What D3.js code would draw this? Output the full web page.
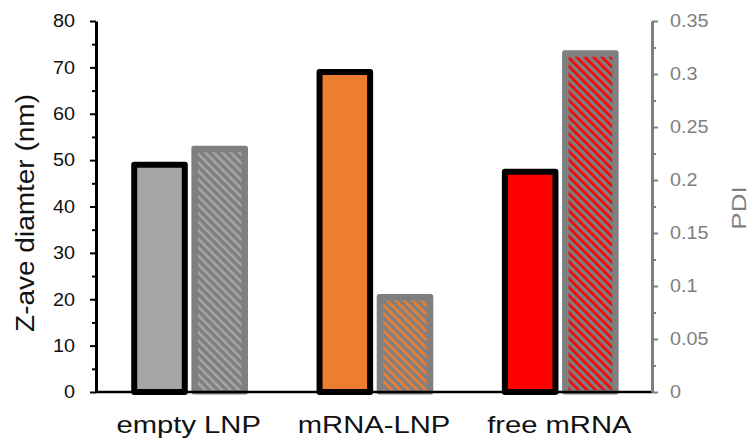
<!DOCTYPE html>
<html>
<head>
<meta charset="utf-8">
<script src="https://cdn.jsdelivr.net/npm/d3@7"></script>
<style>
  html, body { margin: 0; padding: 0; background: #fff; }
  svg { display: block; font-family: "Liberation Sans", Arial, sans-serif; }
</style>
</head>
<body>
<svg id="chart" width="754" height="441"></svg>
<script>
// Particle characterisation: Z-average diameter (left axis) and PDI (right axis)
const categories = ["empty LNP", "mRNA-LNP", "free mRNA"];
const zAverage = [49, 69, 47.5];          // nm
const pdi = [0.23, 0.09, 0.32];
const barColors = ["#a6a6a6", "#ed7d31", "#ff0000"];
const zTicks = [0, 10, 20, 30, 40, 50, 60, 70, 80];
const pdiTicks = [0, 0.05, 0.1, 0.15, 0.2, 0.25, 0.3, 0.35];

const svg = d3.select("#chart");
const plotLeft = 96, plotRight = 652, plotTop = 21, plotBottom = 392;
const grey = "#7f7f7f";

const x = d3.scaleBand().domain(categories).range([plotLeft, plotRight]).padding(0);
const bw = x.bandwidth();
const inner = d3.scaleBand().domain(["z", "pdi"])
  .range([bw * 0.19, bw * 0.82]).paddingInner(0.06).paddingOuter(0);

const yL = d3.scaleLinear().domain([0, 80]).range([plotBottom, plotTop]);
const yR = d3.scaleLinear().domain([0, 0.35]).range([plotBottom, plotTop]);

// hatch patterns: category colour stripes on grey
const defs = svg.append("defs");
categories.forEach((c, i) => {
  const p = defs.append("pattern")
    .attr("id", "hatch" + i)
    .attr("patternUnits", "userSpaceOnUse")
    .attr("width", 6).attr("height", 6)
    .attr("patternTransform", "rotate(-45)");
  p.append("rect").attr("width", 6).attr("height", 6).attr("fill", grey);
  p.append("rect").attr("x", 0).attr("width", 2.6).attr("height", 6).attr("fill", barColors[i]);
});

// Z-average bars (black outline)
const zSw = 6;
svg.append("g").selectAll("rect")
  .data(categories)
  .join("rect")
  .attr("x", (d) => x(d) + inner("z") + zSw / 2)
  .attr("width", inner.bandwidth() - zSw)
  .attr("y", (d, i) => yL(zAverage[i]))
  .attr("height", (d, i) => yL(0) - yL(zAverage[i]))
  .attr("fill", (d, i) => barColors[i])
  .attr("stroke", "#000")
  .attr("stroke-width", zSw)
  .attr("stroke-linejoin", "round");

// PDI bars (grey outline, hatched fill)
const pSw = 5, inset = 4;
const pdiG = svg.append("g");
pdiG.selectAll("rect.outer")
  .data(categories)
  .join("rect")
  .attr("class", "outer")
  .attr("x", (d) => x(d) + inner("pdi") + pSw / 2)
  .attr("width", inner.bandwidth() - pSw)
  .attr("y", (d, i) => yR(pdi[i]))
  .attr("height", (d, i) => yR(0) - yR(pdi[i]))
  .attr("fill", grey)
  .attr("stroke", grey)
  .attr("stroke-width", pSw)
  .attr("stroke-linejoin", "round");
pdiG.selectAll("rect.inner")
  .data(categories)
  .join("rect")
  .attr("class", "inner")
  .attr("x", (d) => x(d) + inner("pdi") + pSw / 2 + inset)
  .attr("width", inner.bandwidth() - pSw - 2 * inset)
  .attr("y", (d, i) => yR(pdi[i]) + inset)
  .attr("height", (d, i) => yR(0) - yR(pdi[i]) - inset - 2)
  .attr("fill", (d, i) => "url(#hatch" + i + ")");

// baseline
svg.append("line")
  .attr("x1", plotLeft).attr("x2", plotRight)
  .attr("y1", plotBottom).attr("y2", plotBottom)
  .attr("stroke", "#000").attr("stroke-width", 2.5);

// minor ticks sit midway between the majors
function minors(ticks) {
  const m = [];
  for (let i = 0; i < ticks.length - 1; i++) m.push((ticks[i] + ticks[i + 1]) / 2);
  return m;
}

function stretchLabels(g, color) {
  g.selectAll("text")
    .attr("font-size", 18).attr("fill", color)
    .attr("font-family", "Liberation Sans, Arial, sans-serif")
    .each(function () {
      const t = d3.select(this);
      const xx = +t.attr("x");
      t.attr("x", 0).attr("transform", `translate(${xx},0) scale(1.1,1)`);
    });
}

// left axis
const gL = svg.append("g").attr("transform", `translate(${plotLeft},0)`);
gL.append("g").call(d3.axisLeft(yL).tickValues(minors(zTicks)).tickSize(4).tickFormat(""))
  .call((g) => g.select(".domain").remove())
  .call((g) => g.selectAll("line").attr("stroke", "#000").attr("stroke-width", 2));
gL.append("g").call(d3.axisLeft(yL).tickValues(zTicks).tickSize(6).tickPadding(15).tickSizeOuter(0))
  .call((g) => g.select(".domain").attr("stroke", "#000").attr("stroke-width", 3))
  .call((g) => g.selectAll("line").attr("stroke", "#000").attr("stroke-width", 2))
  .call((g) => stretchLabels(g, "#111"));

// right axis
const gR = svg.append("g").attr("transform", `translate(${plotRight},0)`);
gR.append("g").call(d3.axisRight(yR).tickValues(minors(pdiTicks)).tickSize(4).tickFormat(""))
  .call((g) => g.select(".domain").remove())
  .call((g) => g.selectAll("line").attr("stroke", grey).attr("stroke-width", 2));
gR.append("g").call(d3.axisRight(yR).tickValues(pdiTicks).tickSize(6).tickPadding(12).tickSizeOuter(0)
    .tickFormat((d) => String(+d.toFixed(2))))
  .call((g) => g.select(".domain").attr("stroke", grey).attr("stroke-width", 3))
  .call((g) => g.selectAll("line").attr("stroke", grey).attr("stroke-width", 2))
  .call((g) => stretchLabels(g, grey));

// category labels
svg.append("g").selectAll("text")
  .data(categories)
  .join("text")
  .attr("transform", (d) => `translate(${x(d) + bw / 2},433) scale(1.27,1)`)
  .attr("text-anchor", "middle")
  .attr("font-size", 23)
  .attr("fill", "#111")
  .text((d) => d);

// axis titles
svg.append("text")
  .attr("transform", "translate(34,213) rotate(-90) scale(1,0.9)")
  .attr("text-anchor", "middle")
  .attr("font-size", 28)
  .attr("fill", "#111")
  .text("Z-ave diamter (nm)");

svg.append("text")
  .attr("transform", "translate(746,208) rotate(-90) scale(1,0.8)")
  .attr("text-anchor", "middle")
  .attr("font-size", 26)
  .attr("fill", grey)
  .text("PDI");
</script>
</body>
</html>
